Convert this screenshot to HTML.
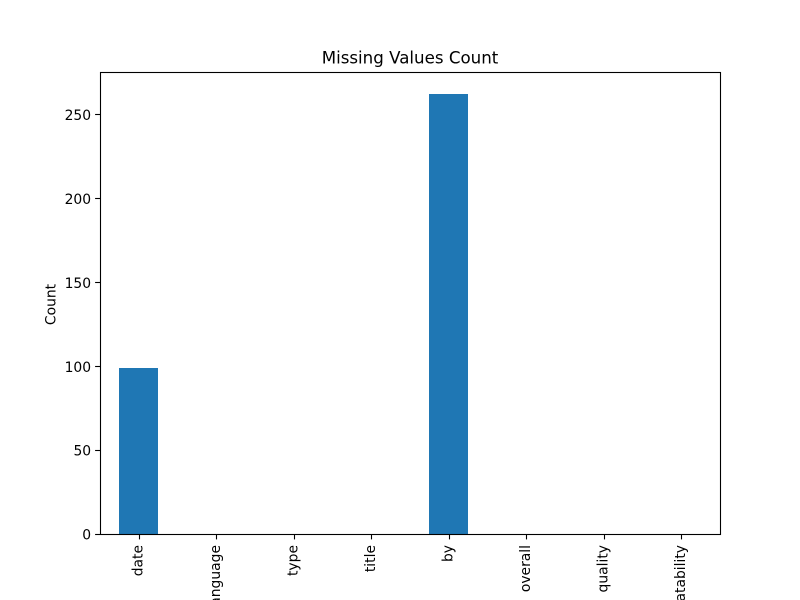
<!DOCTYPE html>
<html>
<head>
<meta charset="utf-8">
<style>
html,body{margin:0;padding:0;background:#fff;width:800px;height:600px;overflow:hidden}
svg{display:block;overflow:hidden}
text{font-family:"DejaVu Sans",sans-serif;fill:#000}
</style>
</head>
<body>
<svg id="chart" width="800" height="600" viewBox="0 0 800 600" xmlns="http://www.w3.org/2000/svg"></svg>
<script>
const categories = ["date", "language", "type", "title", "by", "overall", "quality", "repeatability"];
const counts = [99, 0, 0, 0, 262, 0, 0, 0];
const yTicks = [0, 50, 100, 150, 200, 250];
const chartTitle = "Missing Values Count";
const yAxisLabel = "Count";

const NS = "http://www.w3.org/2000/svg";
const svg = document.getElementById("chart");
const plot = { left: 100, right: 720, top: 72, bottom: 534 };
const yMax = Math.max.apply(null, counts) * 1.05;

function xScale(i) {
  return plot.left + (i + 0.5) * (plot.right - plot.left) / categories.length;
}
function yScale(v) {
  return plot.bottom - (v / yMax) * (plot.bottom - plot.top);
}
function make(tag, attrs, text) {
  const el = document.createElementNS(NS, tag);
  for (const k in attrs) el.setAttribute(k, attrs[k]);
  if (text !== undefined) el.textContent = text;
  svg.appendChild(el);
  return el;
}

const background = make("rect", { x: plot.left, y: plot.top, width: plot.right - plot.left, height: plot.bottom - plot.top, fill: "#fff" });



const unit = (plot.right - plot.left) / categories.length;
counts.forEach(function (v, i) {
  const x0 = Math.round(xScale(i) - unit / 4);
  const x1 = Math.round(xScale(i) + unit / 4);
  const top = Math.round(yScale(v));
  const bar = make("rect", { x: x0, y: top, width: x1 - x0, height: plot.bottom - top, fill: "#1f77b4", "shape-rendering": "crispEdges" });
  
  
});

categories.forEach(function (c, i) {
  const x = Math.round(xScale(i)) + 0.5;
  const tick = make("line", { x1: x, x2: x, y1: plot.bottom, y2: plot.bottom + 5.4, stroke: "#000", "stroke-width": 1.1 });
  
  
  const tx = xScale(i) + 3.9;
  const label = make("text", { x: tx, y: 545, "font-size": 13.89, "text-anchor": "end", transform: "rotate(-90 " + tx + " 545)" }, c);
  
  
});

yTicks.forEach(function (v) {
  const y = Math.round(yScale(v)) + 0.5;
  const tick = make("line", { x1: plot.left - 4.9, x2: plot.left, y1: y, y2: y, stroke: "#000", "stroke-width": 1.1 });
  
  
  const label = make("text", { x: plot.left - 8.9, y: yScale(v) + 5.7, "font-size": 13.89, "text-anchor": "end" }, String(v));
  
  
});

const frame = make("rect", { x: plot.left + 0.5, y: plot.top + 0.5, width: plot.right - plot.left, height: plot.bottom - plot.top, fill: "none", stroke: "#000", "stroke-width": 1.1 });



const title = make("text", { x: 410, y: 63.5, "font-size": 16.67, "text-anchor": "middle" }, chartTitle);



const yTitle = make("text", { x: 55.5, y: 304.5, "font-size": 13.89, "text-anchor": "middle", transform: "rotate(-90 55.5 304.5)" }, yAxisLabel);


</script>
</body>
</html>
